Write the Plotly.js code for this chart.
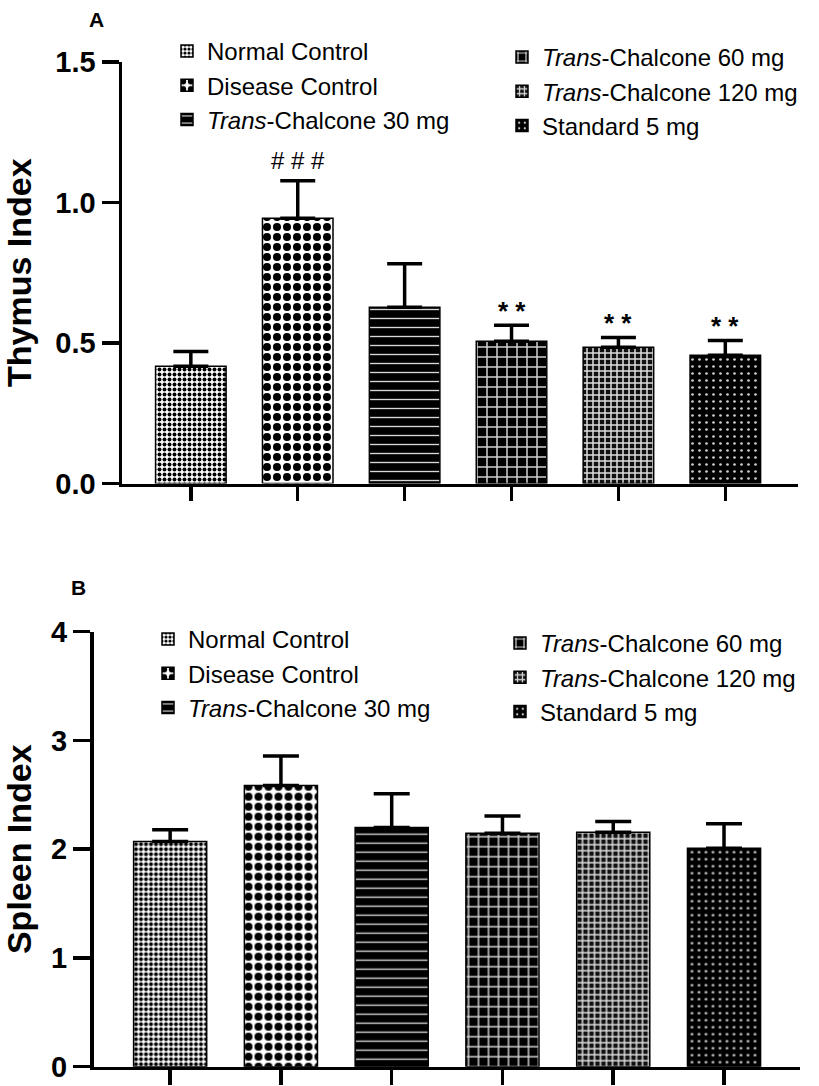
<!DOCTYPE html>
<html>
<head>
<meta charset="utf-8">
<script src="https://cdn.plot.ly/plotly-3.0.1.min.js"></script>
<style>
  html, body { margin: 0; padding: 0; background: #ffffff; }
  #chart { width: 819px; height: 1086px; }
</style>
</head>
<body>
<div id="chart"></div>
<script>
// ---------- data ----------
const groups = ["Normal Control", "Disease Control", "Trans-Chalcone 30 mg",
                "Trans-Chalcone 60 mg", "Trans-Chalcone 120 mg", "Standard 5 mg"];
const legendNames = ["Normal Control", "Disease Control", "<i>Trans</i>-Chalcone 30 mg",
                     "<i>Trans</i>-Chalcone 60 mg", "<i>Trans</i>-Chalcone 120 mg", "Standard 5 mg"];
const thymusMean = [0.417, 0.944, 0.627, 0.506, 0.485, 0.456];
const thymusErr  = [0.053, 0.133, 0.155, 0.057, 0.035, 0.053];
const thymusSig  = ["", "# # #", "", "* *", "* *", "* *"];
const spleenMean = [2.070, 2.585, 2.199, 2.147, 2.156, 2.009];
const spleenErr  = [0.108, 0.273, 0.310, 0.159, 0.098, 0.224];
const thymusTicks = [0, 0.5, 1.0, 1.5];
const spleenTicks = [0, 1, 2, 3, 4];

// ---------- styles ----------
const FONT = "Liberation Sans, Arial, Helvetica, sans-serif";
const patterns = [
  {shape: ".", fgcolor: "#000000", bgcolor: "#ffffff", size: 5,  solidity: 0.5},
  {shape: ".", fgcolor: "#000000", bgcolor: "#ffffff", size: 10, solidity: 0.5},
  {shape: "-", fgcolor: "#d8d8d8", bgcolor: "#000000", size: 9,  solidity: 0.15},
  {shape: "+", fgcolor: "#d0d0d0", bgcolor: "#000000", size: 10, solidity: 0.28},
  {shape: "+", fgcolor: "#dcdcdc", bgcolor: "#111111", size: 6,  solidity: 0.44},
  {shape: ".", fgcolor: "#cfcfcf", bgcolor: "#000000", size: 7,  solidity: 0.12}
];

const traces = [];
function addPanel(means, errs, xa, ya, legs, capw) {
  for (let i = 0; i < groups.length; i++) {
    traces.push({
      type: "bar",
      x: [groups[i]],
      y: [means[i]],
      name: legendNames[i],
      xaxis: xa, yaxis: ya,
      legend: i < 3 ? legs[0] : legs[1],
      width: 0.66,
      marker: {color: "#ffffff", line: {color: "#000000", width: 1.5}, pattern: patterns[i]},
      error_y: {type: "data", symmetric: false, array: [errs[i]], arrayminus: [0],
                color: "#000000", thickness: 3.5, width: capw},
      hoverinfo: "skip"
    });
  }
}
addPanel(thymusMean, thymusErr, "x", "y", ["legend", "legend2"], 17.5);
addPanel(spleenMean, spleenErr, "x2", "y2", ["legend3", "legend4"], 18);

const annotations = [];
for (let i = 0; i < groups.length; i++) {
  if (!thymusSig[i]) continue;
  const isHash = thymusSig[i].indexOf("#") >= 0;
  annotations.push({
    xref: "x", yref: "y", x: groups[i], y: thymusMean[i] + thymusErr[i],
    text: thymusSig[i], showarrow: false, yanchor: "bottom",
    yshift: isHash ? 5 : -3,
    font: {family: FONT, size: isHash ? 24 : 26, color: "#000000", weight: isHash ? "normal" : "bold"}
  });
}
annotations.push({xref: "paper", yref: "paper", x: 96 / 819, y: 1 - 20 / 1086, text: "<b>A</b>",
  showarrow: false, xanchor: "center", yanchor: "middle", font: {family: FONT, size: 21, color: "#000"}});
annotations.push({xref: "paper", yref: "paper", x: 78 / 819, y: 1 - 587 / 1086, text: "<b>B</b>",
  showarrow: false, xanchor: "center", yanchor: "middle", font: {family: FONT, size: 21, color: "#000"}});

const legendBase = {xanchor: "left", yanchor: "top", bgcolor: "rgba(0,0,0,0)", borderwidth: 0,
  font: {family: FONT, size: 24, color: "#000000"}, tracegroupgap: 0, itemclick: false, itemdoubleclick: false};

const yAxisBase = {showline: true, linecolor: "#000", linewidth: 3.5, ticks: "outside",
  tickcolor: "#000", tickwidth: 3.5, ticklen: 17, showgrid: false, zeroline: false,
  tickfont: {family: FONT, size: 29, color: "#000", weight: "bold"}, automargin: false, fixedrange: true};
const xAxisBase = {type: "category", showline: true, linecolor: "#000", linewidth: 3.5, ticks: "outside",
  tickcolor: "#000", tickwidth: 3.5, showticklabels: false, showgrid: false, zeroline: false,
  automargin: false, fixedrange: true};

const layout = {
  width: 819, height: 1086,
  margin: {l: 0, r: 0, t: 0, b: 0},
  paper_bgcolor: "#ffffff", plot_bgcolor: "rgba(0,0,0,0)",
  barmode: "overlay",
  font: {family: FONT, color: "#000"},
  xaxis: Object.assign({}, xAxisBase, {domain: [122 / 819, 798 / 819], range: [-0.644, 5.68], anchor: "y", ticklen: 14}),
  yaxis: Object.assign({}, yAxisBase, {domain: [1 - 483.5 / 1086, 1 - 62 / 1086], range: [0, 1.5], anchor: "x",
    tickvals: thymusTicks, tickformat: ".1f",
    title: {text: "<b>Thymus Index</b>", font: {family: FONT, size: 34, color: "#000"}, standoff: 20}}),
  xaxis2: Object.assign({}, xAxisBase, {domain: [93.5 / 819, 800 / 819], range: [-0.692, 5.686], anchor: "y2", ticklen: 15}),
  yaxis2: Object.assign({}, yAxisBase, {domain: [1 - 1066.7 / 1086, 1 - 631.7 / 1086], range: [0, 4], anchor: "x2",
    tickvals: spleenTicks, tickformat: "d",
    title: {text: "<b>Spleen Index</b>", font: {family: FONT, size: 34, color: "#000"}, standoff: 20}}),
  legend:  Object.assign({}, legendBase, {x: 167 / 819, y: 1 - 29 / 1086}),
  legend2: Object.assign({}, legendBase, {x: 502 / 819, y: 1 - 35 / 1086}),
  legend3: Object.assign({}, legendBase, {x: 148 / 819, y: 1 - 617 / 1086}),
  legend4: Object.assign({}, legendBase, {x: 500 / 819, y: 1 - 621 / 1086}),
  annotations: annotations,
  showlegend: true
};

Plotly.newPlot("chart", traces, layout, {displayModeBar: false, staticPlot: true});
</script>
</body>
</html>
